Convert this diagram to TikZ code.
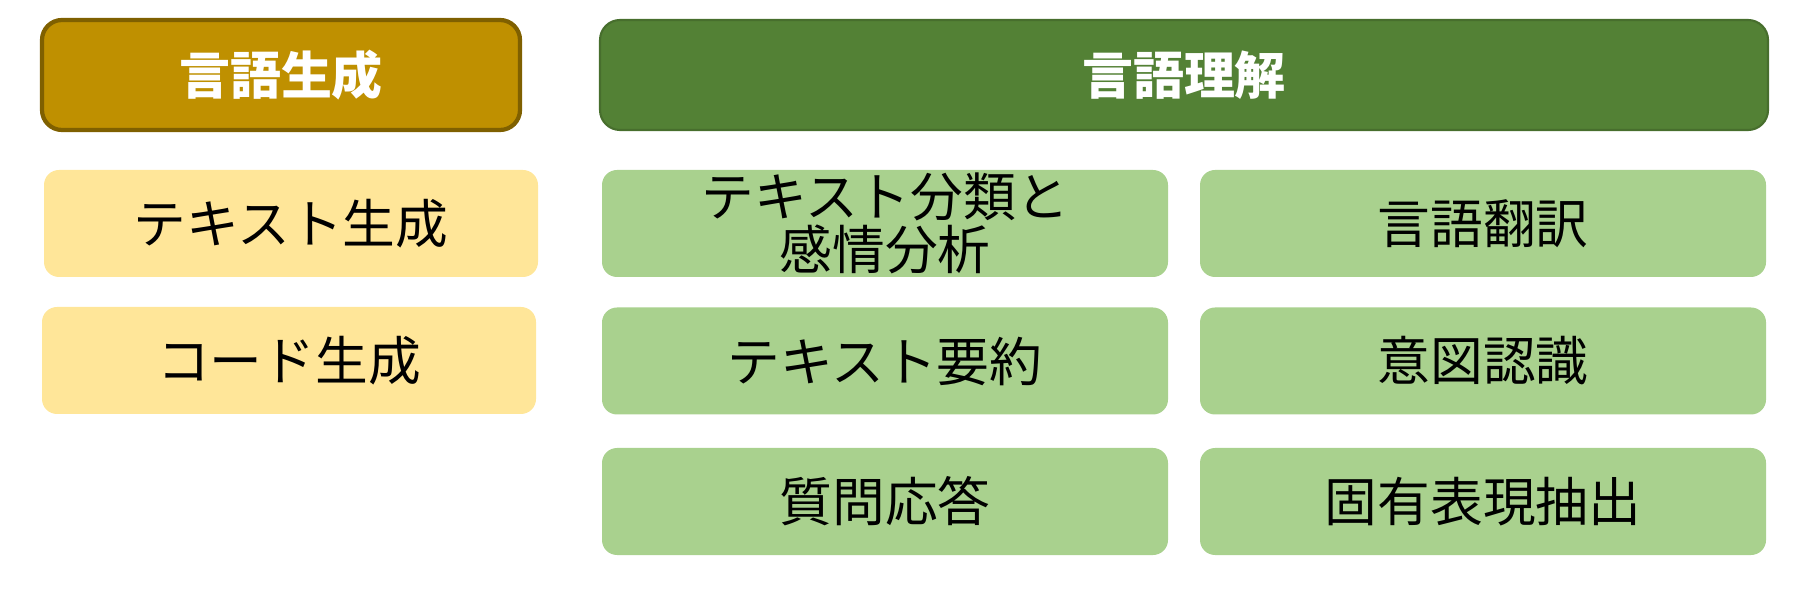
\documentclass[tikz,border=0pt]{standalone}
\usepackage{fontspec}
\setmainfont{Noto Sans CJK JP}
\usepackage{tikz}
\usetikzlibrary{calc}

\definecolor{gengold}{HTML}{BF9000}
\definecolor{genedge}{HTML}{7F6000}
\definecolor{genlight}{HTML}{FFE699}
\definecolor{undgreen}{HTML}{538135}
\definecolor{undlight}{HTML}{A9D18E}

\tikzset{
  header/.style={rounded corners=0.2cm, minimum height=1.10cm, text=white,
    font=\fontsize{14.5}{16}\selectfont\bfseries},
  taskbox/.style={rounded corners=0.15cm, minimum height=1.07cm,
    font=\fontsize{15}{15.5}\selectfont, align=center}
}

\begin{document}
\begin{tikzpicture}
         \useasboundingbox (0,0) rectangle (18.08,5.92);
          \node[header, fill=gengold, draw=genedge, line width=1.2pt, minimum width=4.78cm] (gen) at (2.81,5.17) {言語生成};
          \node[header, fill=undgreen, draw=undgreen!85!black, line width=0.6pt, minimum width=11.68cm] (und) at (11.84,5.17) {言語理解};
          \node[taskbox, fill=genlight, minimum width=4.94cm] (textgen) at (2.91,3.685) {テキスト生成};
          \node[taskbox, fill=genlight, minimum width=4.94cm] (codegen) at (2.89,2.315) {コード生成};
          \node[taskbox, fill=undlight, minimum width=5.66cm, inner ysep=0pt] (classify) at (8.85,3.685) {テキスト分類と\\[-0.6pt]感情分析};
          \node[taskbox, fill=undlight, minimum width=5.66cm] (summary) at (8.85,2.31) {テキスト要約};
          \node[taskbox, fill=undlight, minimum width=5.66cm] (qa) at (8.85,0.905) {質問応答};
          \node[taskbox, fill=undlight, minimum width=5.66cm] (translate) at (14.83,3.685) {言語翻訳};
          \node[taskbox, fill=undlight, minimum width=5.66cm] (intent) at (14.83,2.31) {意図認識};
          \node[taskbox, fill=undlight, minimum width=5.66cm] (ner) at (14.83,0.905) {固有表現抽出};
      \end{tikzpicture}
\end{document}
